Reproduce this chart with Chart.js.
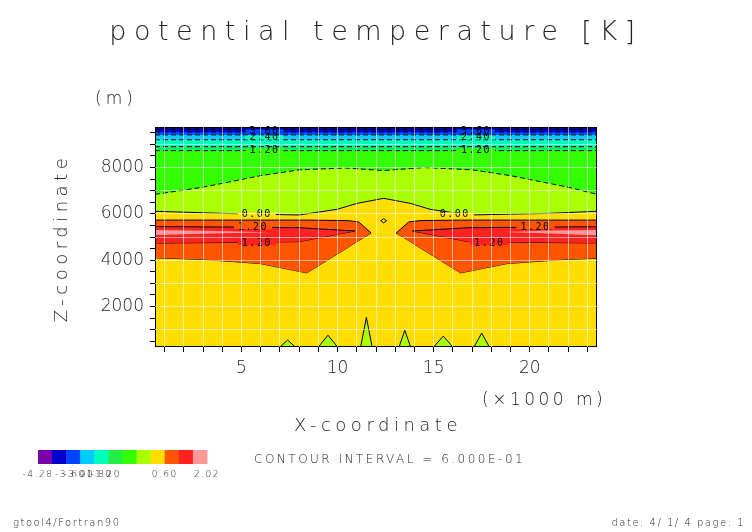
<!DOCTYPE html>
<html><head><meta charset="utf-8">
<script src="https://cdn.jsdelivr.net/npm/chart.js@4.4.1/dist/chart.umd.min.js"></script>
<style>body{margin:0;background:#fff}canvas{display:block}</style>
</head><body><canvas id="c" width="752" height="532"></canvas>
<script>
// ---- data (x in 1000 m, z in m) ----
const xMin = 0.5, xMax = 23.5, zMin = 250, zMax = 9750;
const fullX = [0.5, 23.5];
const zeroX = [0.5, 4, 8, 10, 11, 12.4, 13.8, 14.8, 16.8, 21, 23.5];
const zeroZ = [6110, 6020, 5950, 6200, 6450, 6670, 6450, 6200, 5950, 6020, 6110];
const m06X = [0.5, 3, 6, 8, 10.4, 12.4, 14.5, 17, 19, 22, 23.5];
const m06Z = [6840, 7150, 7650, 7900, 7980, 7870, 8000, 7900, 7650, 7150, 6840];
const upperLevels = [8730, 8900, 9200, 9410, 9540, 9640];
const spikeX = [0.5, 7.0, 7.4, 7.8, 9.0, 9.5, 10.0, 11.2, 11.5, 11.8, 13.2, 13.5, 13.8, 15.0, 15.5, 16.0, 17.1, 17.5, 17.9, 23.5];
const spikeZ = [250, 250, 550, 250, 250, 760, 250, 250, 1530, 250, 250, 970, 250, 250, 720, 250, 250, 850, 250, 250];
const orangeX = [0.5, 3, 6, 8.4, 10.5, 11.1, 11.75];
const orangeLow = [4100, 4030, 3850, 3450, 4530, 4850, 5170];
const orangeUp = [5730, 5730, 5730, 5730, 5710, 5650, 5170];
const redX = [0.5, 4, 8, 10.9];
const redUp = [5450, 5430, 5400, 5260];
const redLow = [4740, 4760, 4800, 5260];
const pinkXL = [0.5, 3, 6.5], pinkUpL = [5300, 5270, 5210], pinkLowL = [5090, 5140, 5210];
const pinkXR = [18.7, 21, 23.5], pinkUpR = [5220, 5280, 5300], pinkLowR = [5220, 5150, 5080];
const diamondX = [12.25, 12.4, 12.55, 12.4, 12.25];
const diamondZ = [5700, 5790, 5700, 5610, 5700];
const mirrorAt = 24.8;
const labelText = ['0.00', '0.00', '1.20', '1.20', '1.20', '1.20', '1.20', '1.20', '2.40', '2.40', '3.60', '3.60'];
const labelX = [5.8, 16.1, 5.6, 5.8, 20.3, 17.9, 6.2, 17.2, 6.2, 17.2, 6.2, 17.2];
const labelZ = [5980, 5980, 5430, 4740, 5430, 4740, 8730, 8730, 9290, 9290, 9560, 9560];
const labelBg = ['#ffdd00', '#ffdd00', '#ff5500', '#ff2222', '#ff5500', '#ff2222', '#33ff00', '#33ff00', '#00ffbb', '#00ffbb', '#0044ff', '#0044ff'];
const barColors = ['#7a00aa', '#0000cc', '#0044ff', '#00ccff', '#00ffbb', '#22ee44', '#33ff00', '#aaff00', '#ffdd00', '#ff5500', '#ff2222', '#ff9999'];
const barLabels = ['-4.28', '-3.60', '-3.00', '-1.80', '-1.20', '0.60', '2.02'];
const barLabelIdx = [0, 2.3, 2.9, 4.2, 4.8, 9, 12];

const pts = (xs, ys) => xs.map((x, i) => ({x, y: ys[i]}));
const mir = (xs, ys) => xs.map((x, i) => ({x: mirrorAt - x, y: ys[i]})).reverse();
const ds = [];
function add(o) { ds.push(Object.assign({pointRadius: 0, borderWidth: 0, tension: 0, fill: false, borderColor: 'rgba(0,0,0,0)', order: -ds.length}, o)); return ds.length - 1; }
add({data: pts(fullX, [zMax, zMax]), fill: 'start', backgroundColor: '#ffdd00'});
add({data: pts(zeroX, zeroZ), fill: 'end', backgroundColor: '#aaff00', borderColor: '#000', borderWidth: 1});
add({data: pts(m06X, m06Z), fill: 'end', backgroundColor: '#33ff00', borderColor: '#000', borderWidth: 1, borderDash: [5, 3]});
const upCols = ['#11ee66', '#00ffbb', '#00ccff', '#0044ff', '#0000cc', '#0000aa'];
upperLevels.forEach((z, i) => add({data: pts(fullX, [z, z]), fill: 'end', backgroundColor: upCols[i], borderColor: '#000', borderWidth: 1, borderDash: [5, 3]}));
add({data: pts(spikeX, spikeZ), fill: 'start', backgroundColor: '#aaff00', borderColor: '#000', borderWidth: 1});
function lobe(xs, up, low, col) {
  const a = add({data: pts(xs, low), borderColor: '#000', borderWidth: 1});
  add({data: pts(xs, up), fill: a, backgroundColor: col, borderColor: '#000', borderWidth: 1});
  const b = add({data: mir(xs, low), borderColor: '#000', borderWidth: 1});
  add({data: mir(xs, up), fill: b, backgroundColor: col, borderColor: '#000', borderWidth: 1});
}
lobe(orangeX, orangeUp, orangeLow, '#ff5500');
lobe(redX, redUp, redLow, '#ff2222');
const pl = add({data: pts(pinkXL, pinkLowL)});
add({data: pts(pinkXL, pinkUpL), fill: pl, backgroundColor: '#ff9999'});
const pr = add({data: pts(pinkXR, pinkLowR)});
add({data: pts(pinkXR, pinkUpR), fill: pr, backgroundColor: '#ff9999'});
add({data: pts(diamondX, diamondZ), borderColor: '#000', borderWidth: 1});

const deco = {
  id: 'deco',
  afterDatasetsDraw(chart) {
    const c = chart.ctx, xs = chart.scales.x, ys = chart.scales.y, a = chart.chartArea;
    c.save();
    c.font = '10px "DejaVu Sans Mono"'; c.textAlign = 'center'; c.textBaseline = 'middle';
    if ('letterSpacing' in c) c.letterSpacing = '1.5px';
    labelText.forEach((t, i) => {
      const px = xs.getPixelForValue(labelX[i]), py = ys.getPixelForValue(labelZ[i]);
      const w = c.measureText(t).width + 8;
      c.fillStyle = labelBg[i]; c.fillRect(px - w / 2, py - 2, w, 4);
      c.fillStyle = '#000'; c.fillText(t, px, py);
    });
    c.strokeStyle = '#000'; c.lineWidth = 1;
    c.strokeRect(a.left + .5, a.top + .5, a.right - a.left - 1, a.bottom - a.top - 1);
    c.restore();
  },
  afterDraw(chart) {
    const c = chart.ctx;
    c.save();
    c.fillStyle = '#222'; c.textBaseline = 'alphabetic';
    const txt = (t, x, y, size, sp, align) => { c.font = '300 ' + size + 'px "DejaVu Sans"'; if ('letterSpacing' in c) c.letterSpacing = sp + 'px'; c.textAlign = align || 'left'; c.fillText(t, x, y); };
    txt('potential temperature [K]', 376, 40, 27, 7.5, 'center');
    txt('(m)', 95, 104, 17, 4);
    txt('X-coordinate', 378, 431, 18, 4.5, 'center');
    txt('(×1000 m)', 482, 405, 17, 3.5);
    c.save(); c.translate(67, 238); c.rotate(-Math.PI / 2); txt('Z-coordinate', 0, 0, 18, 4.5, 'center'); c.restore();
    txt('CONTOUR INTERVAL = 6.000E-01', 254, 463, 12, 2.5);
    txt('gtool4/Fortran90', 13, 526, 10, 1.5);
    txt('date: 4/ 1/ 4 page: 1', 745, 526, 10, 1.5, 'right');
    const bx = 38, bw = 169 / 12;
    barColors.forEach((col, i) => { c.fillStyle = col; c.fillRect(bx + i * bw, 450, bw + 0.5, 14); });
    c.fillStyle = '#222';
    barLabels.forEach((t, i) => txt(t, bx + barLabelIdx[i] * bw, 477, 9, 1.5, 'center'));
    c.restore();
  }
};

new Chart(document.getElementById('c'), {
  type: 'line',
  data: {datasets: ds},
  plugins: [deco],
  options: {
    responsive: false, animation: false, events: [],
    layout: {padding: {left: 0, top: 127, right: 155, bottom: 145}},
    plugins: {legend: {display: false}, tooltip: {enabled: false}, filler: {propagate: false}},
    scales: {
      x: {type: 'linear', min: xMin, max: xMax,
        afterFit: s => { s.height = 40; },
        afterBuildTicks: s => { s.ticks = []; for (let v = 1; v <= 23; v++) s.ticks.push({value: v}); },
        grid: {z: 1, color: 'rgba(255,255,255,0.55)', lineWidth: 1, drawTicks: true, tickLength: 5, tickColor: '#000'},
        border: {display: false},
        ticks: {autoSkip: false, maxRotation: 0, color: '#222', font: {family: 'DejaVu Sans', size: 17, weight: 300}, padding: 6,
          callback: v => (v % 5 === 0 ? String(v) : '')}},
      y: {type: 'linear', min: zMin, max: zMax,
        afterFit: s => { s.width = 155; },
        afterBuildTicks: s => { s.ticks = []; for (let v = 500; v <= 9500; v += 500) s.ticks.push({value: v}); },
        grid: {z: 1, color: ctx => (ctx.tick && ctx.tick.value % 1000 === 0 ? 'rgba(255,255,255,0.55)' : 'rgba(0,0,0,0)'), tickColor: '#000', tickLength: 5},
        border: {display: false},
        ticks: {autoSkip: false, color: '#222', font: {family: 'DejaVu Sans', size: 17, weight: 300}, padding: 6,
          callback: v => (v % 2000 === 0 ? String(v) : '')}}
    }
  }
});
</script></body></html>
